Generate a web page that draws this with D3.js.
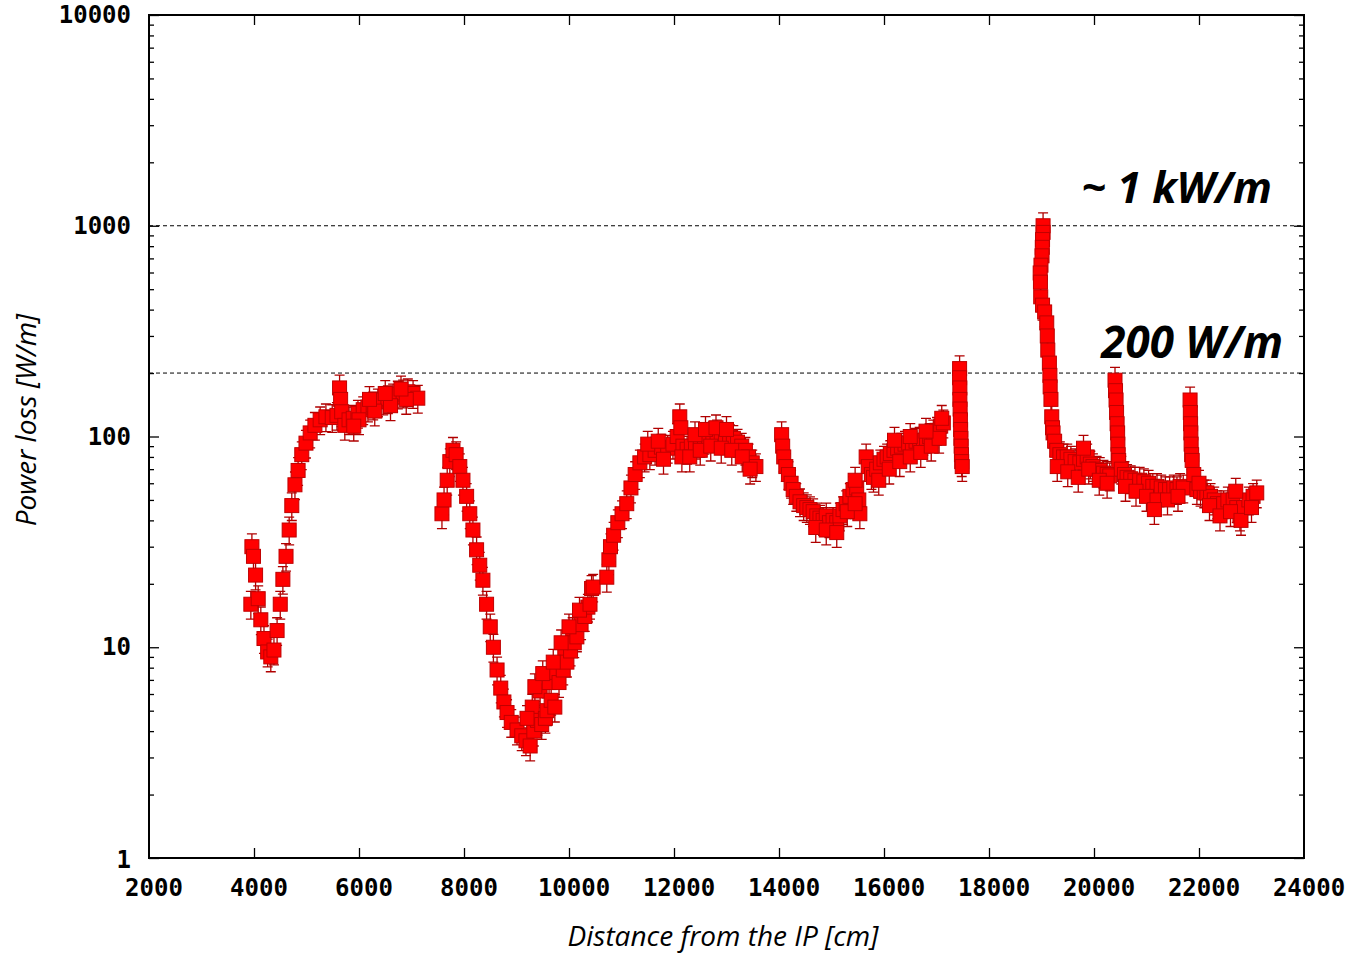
<!DOCTYPE html>
<html><head><meta charset="utf-8">
<script src="https://cdn.jsdelivr.net/npm/d3@7"></script>
<style>
body{margin:0;background:#fff;}
svg{display:block;}
</style></head>
<body>
<svg id="chart" width="1349" height="953"></svg>
<script>
// ---- data (distance in cm, power loss in W/m) ----
const segA = [[3940,16],[3960,30],[3990,27],[4030,22],[4080,17],[4130,13.5],[4190,11],[4260,9.5],[4320,9.0],[4380,9.7],[4440,12],[4500,16],[4550,21],[4610,27],[4670,36],[4720,47],[4780,59],[4840,69],[4910,82],[4990,93],[5070,104],[5160,113],[5260,120],[5370,124],[5490,123],[5580,126],[5630,170],[5650,150],[5670,131],[5730,113],[5810,120],[5890,122],[5980,129],[6080,134],[6170,138],[6270,141],[6360,146],[6460,149],[6550,151],[6650,154],[6740,159],[6840,161],[6930,163],[7030,160],[7120,152],
  [6000,120],[6300,132],[6600,140],[6900,150],[6200,150],[6500,160],[6800,168],[5900,112]];
const segB = [[7580,43],[7620,50],[7680,62],[7730,76],[7790,86],[7850,82],[7920,72],[7980,62],[8050,52],[8110,43],[8170,36],[8240,29],[8300,24.5],[8360,20.8],[8430,16],[8500,12.5],[8560,10],[8630,7.8],[8700,6.4],[8760,5.5],[8820,4.9],[8900,4.4],[9010,4.05],[9100,3.8],[9180,3.6],[9260,3.4],[9330,4.0],[9300,5.2],[9400,4.5],[9450,6.2],[9480,4.3],[9550,4.6],[9580,5.0],[9620,6.8],[9660,5.6],[9730,5.2],[9760,7.6],[9810,6.8],[9890,7.8],[9920,9.5],[9960,8.5],[10030,9.6],[10070,12],[10100,10.5],[10150,11.2],[10230,12.8],[10300,14],[10360,15.5],[10430,19],[10460,19.3],
  [9200,4.6],[9350,6.5],[9500,7.5],[9700,8.5],[9850,10.5],[10000,12.5],[10200,15],[10400,16]];
const segB2 = [[10720,21.5],[10760,26],[10790,30],[10850,34],[10930,39],[11010,43],[11100,48],[11180,57],[11260,66],[11350,75],[11440,80],[11540,82],[11640,86],[11760,89],[11880,88],[11980,92],[12060,100],[12110,124],[12130,110],[12170,90],[12250,87],[12330,90],[12410,92],[12500,94],[12580,97],[12660,100],[12740,102],[12820,104],[12900,101],[12980,100],[13060,99],[13130,98],[13210,94],[13290,90],[13360,86],[13420,80],[13490,75],[13560,72],
  [11500,92],[11800,78],[11700,95],[12150,80],[12300,80],[12500,86],[12700,90],[12900,88],[13100,86],[13300,80],[13450,70],[12400,102],[12600,108],[12800,110],[13000,108]];
const segC = [[14050,102],[14070,90],[14090,80],[14130,72],[14180,66],[14230,60],[14270,56],[14330,52],[14400,49],[14470,47],[14530,46],[14590,45],[14650,44],[14720,42],[14780,41],[14840,40],[14900,42],[14960,39],[15030,40],[15100,39],[15160,42],[15220,45],[15280,48],[15350,52],[15410,56],[15480,57],[15520,50],[15540,43],
  [14700,37],[14900,36],[15100,35],[15300,44],[15450,62],[15450,48]];
const segD = [[15660,80],[15700,72],[15760,66],[15800,64],[15860,70],[15930,75],[16000,78],[16060,80],[16120,83],[16190,86],[16260,88],[16330,90],[16400,92],[16470,93],[16540,92],[16610,95],[16680,96],[16750,96],[16810,98],[16870,100],[16940,104],[17010,107],[17080,112],[17130,116],
  [15900,62],[16100,70],[16300,76],[16500,80],[16700,84],[16900,90],[17050,98],[16200,96],[16500,100],[16800,106],[17100,122]];
const segE = [[17440,210],[17440,190],[17445,170],[17445,150],[17450,135],[17455,120],[17460,108],[17465,98],[17470,90],[17475,82],[17480,76],[17490,72]];
const segF = [[19030,1000],[19030,930],[19020,860],[19015,790],[19010,720],[18990,650],[18975,597],[18980,540],[18985,460],[19020,420],[19060,390],[19100,346],[19110,300],[19120,257],[19150,223],[19160,195],[19165,172],[19180,150],[19195,124],[19210,110],[19220,104],[19250,95],[19290,86],[19350,82],[19420,80],[19490,80],[19560,78],[19640,76],[19730,75],[19800,78],[19870,80],[19930,74],[19980,72],[20050,70],[20110,69],[20180,67],[20250,66],[20300,65],
  [19300,72],[19500,68],[19700,64],[19900,70],[20100,62],[20250,60],[19800,88]];
const segG = [[20400,185],[20410,165],[20420,149],[20430,130],[20440,115],[20450,104],[20455,92],[20460,82],[20470,77],[20520,70],[20580,66],[20630,64],[20700,63],[20780,62],[20870,62],[20950,61],[21040,60],[21120,58],[21160,52],[21200,58],[21280,57],[21360,56],[21440,56],[21520,57],[21580,56],[21640,58],[21700,57],
  [20600,58],[20800,55],[21000,52],[21200,50],[21400,50],[21600,52],[21150,45]];
const segH = [[21830,149],[21835,130],[21840,115],[21845,104],[21850,92],[21860,82],[21870,77],[21900,66],[21960,56],[22030,55],[22100,54],[22150,54],[22220,52],[22290,50],[22350,48],[22400,46],[22470,48],[22550,50],[22650,50],[22720,46],[22780,42],[22850,46],[22950,50],[23030,52],[23100,54],
  [22000,60],[22200,47],[22400,42],[22600,44],[22800,40],[23000,46],[22700,55]];
const segments = [segA, segB, segB2, segC, segD, segE, segF, segG, segH];
const relError = 0.15;

const xTicks = [2000,4000,6000,8000,10000,12000,14000,16000,18000,20000,22000,24000];
const yDecades = [1,10,100,1000,10000];
const refLines = [1000,200];
const refLabels = ["~ 1 kW/m","200 W/m"];
const xTitle = "Distance from the IP [cm]";
const yTitle = "Power loss [W/m]";

// ---- layout ----
const L=149, R=1304, T=15, B=858;
const svg = d3.select("#chart");
const x = d3.scaleLinear().domain([2000,24000]).range([L,R]);
const y = d3.scaleLog().domain([1,10000]).range([B,T]);

const minor = [];
for (let d=1; d<10000; d*=10) for (let k=2;k<=9;k++) minor.push(d*k);

// reference dashed lines
svg.append("g").selectAll("line").data(refLines).join("line")
  .attr("x1",L).attr("x2",R).attr("y1",d=>y(d)).attr("y2",d=>y(d))
  .attr("stroke","#000").attr("stroke-width",1).attr("stroke-dasharray","4,3");

// axes ticks
function styleAxis(g){ g.select(".domain").remove(); g.selectAll("line").attr("stroke","#000").attr("stroke-width",1.3); }
svg.append("g").attr("transform",`translate(0,${B})`)
  .call(d3.axisBottom(x).tickValues(xTicks.slice(1,-1)).tickSize(-10).tickFormat(""))
  .call(styleAxis);
svg.append("g").attr("transform",`translate(0,${T})`)
  .call(d3.axisTop(x).tickValues(xTicks.slice(1,-1)).tickSize(-10).tickFormat(""))
  .call(styleAxis);
svg.append("g").attr("transform",`translate(${L},0)`)
  .call(d3.axisLeft(y).tickValues(yDecades).tickSize(-10).tickFormat(""))
  .call(styleAxis);
svg.append("g").attr("transform",`translate(${L},0)`)
  .call(d3.axisLeft(y).tickValues(minor).tickSize(-5).tickFormat(""))
  .call(styleAxis);
svg.append("g").attr("transform",`translate(${R},0)`)
  .call(d3.axisRight(y).tickValues(yDecades).tickSize(-10).tickFormat(""))
  .call(styleAxis);
svg.append("g").attr("transform",`translate(${R},0)`)
  .call(d3.axisRight(y).tickValues(minor).tickSize(-5).tickFormat(""))
  .call(styleAxis);

// tick labels
const tickFont = "'DejaVu Sans Mono', monospace";
svg.append("g").selectAll("text").data(xTicks).join("text")
  .attr("x",d=>x(d)+5).attr("y",B+38).attr("text-anchor","middle")
  .attr("font-family",tickFont).attr("font-weight","bold").attr("font-size",24)
  .attr("fill","#000").text(d=>d);
svg.append("g").selectAll("text").data(yDecades).join("text")
  .attr("x",131).attr("y",d=>y(d)+(d===1?10:8)).attr("text-anchor","end")
  .attr("font-family",tickFont).attr("font-weight","bold").attr("font-size",24)
  .attr("fill","#000").text(d=>d);

// frame
svg.append("rect").attr("x",L).attr("y",T).attr("width",R-L).attr("height",B-T)
  .attr("fill","none").attr("stroke","#000").attr("stroke-width",2);

// data: error bars + square points
const pts = segments.flat();
const gp = svg.append("g");
gp.selectAll("path.err").data(pts).join("path").attr("class","err")
  .attr("d",d=>{const px=x(d[0]), y1=y(d[1]*(1-relError)), y2=y(d[1]*(1+relError));
     return `M${px},${y1}V${y2}M${px-5},${y1}H${px+5}M${px-5},${y2}H${px+5}`;})
  .attr("stroke","#b00000").attr("stroke-width",1.3).attr("fill","none");
gp.selectAll("rect.pt").data(pts).join("rect").attr("class","pt")
  .attr("x",d=>x(d[0])-7).attr("y",d=>y(d[1])-7).attr("width",14).attr("height",14)
  .attr("fill","#ff0000").attr("stroke","#c00000").attr("stroke-width",1);

// annotation labels
const annFont = "'Open Sans', sans-serif";
svg.append("text").attr("x",1272).attr("y",203).attr("text-anchor","end")
  .attr("font-family",annFont).attr("font-style","italic").attr("font-weight","bold")
  .attr("font-size",43).attr("fill","#000").text(refLabels[0]);
svg.append("text").attr("x",1283).attr("y",358).attr("text-anchor","end")
  .attr("font-family",annFont).attr("font-style","italic").attr("font-weight","bold")
  .attr("font-size",44).attr("fill","#000").text(refLabels[1]);

// axis titles
svg.append("text").attr("x",723).attr("y",946).attr("text-anchor","middle")
  .attr("font-family",annFont).attr("font-style","italic").attr("font-size",28)
  .attr("fill","#000").text(xTitle);
svg.append("text").attr("transform","translate(36,420) rotate(-90)").attr("text-anchor","middle")
  .attr("font-family",annFont).attr("font-style","italic").attr("font-size",28)
  .attr("fill","#000").text(yTitle);
</script>
</body></html>
